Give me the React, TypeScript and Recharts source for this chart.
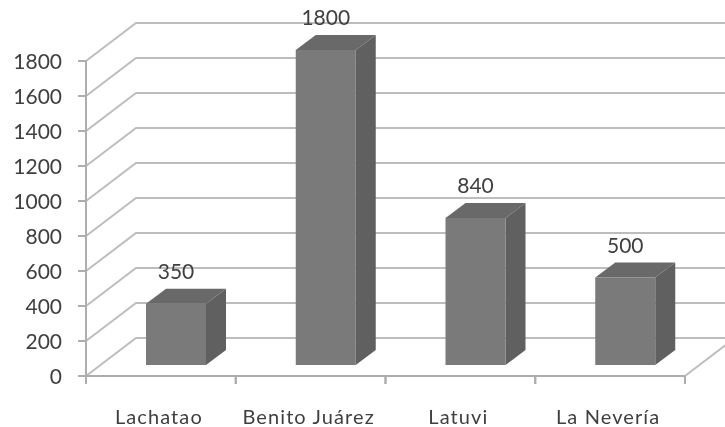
import React from "react";
import { ComposedChart, Bar, XAxis, YAxis, CartesianGrid, LabelList } from "recharts";

const categories = ["Lachatao", "Benito Juárez", "Latuvi", "La Nevería"];
const values = [350, 1800, 840, 500];
const yTicks = [0, 200, 400, 600, 800, 1000, 1200, 1400, 1600, 1800];

const data = categories.map((name, i) => ({ name, value: values[i] }));

const W = 725;
const H = 427;
const BACK_DX = 50;
const BACK_DY = -38;
const BAR_DX = 15;
const BAR_DY = -11;
const SIDE_DX = 20;
const SIDE_DY = -15;
const GRID = "#bdbdbd";
const AXIS = "#adadad";
const TEXT = "#3f3f3f";
const FONT = "Lato, Carlito, sans-serif";

const GridLine = (p: any) => {
  const { x1, y1, x2 } = p;
  const by = y1 + BACK_DY;
  return (
    <polyline
      points={`${x1},${y1} ${x1 + BACK_DX},${by} ${x2 + BACK_DX},${by}`}
      fill="none"
      stroke={GRID}
      strokeWidth={2}
    />
  );
};

const Box = (p: any) => {
  const x = p.x + BAR_DX;
  const y = p.y + BAR_DY;
  const w = p.width;
  const h = p.height;
  return (
    <g>
      <polygon
        points={`${x},${y} ${x + SIDE_DX},${y + SIDE_DY} ${x + w + SIDE_DX},${y + SIDE_DY} ${x + w},${y}`}
        fill="#696969"
      />
      <polygon
        points={`${x + w},${y} ${x + w + SIDE_DX},${y + SIDE_DY} ${x + w + SIDE_DX},${y + h + SIDE_DY} ${x + w},${y + h}`}
        fill="#606060"
      />
      <rect x={x} y={y} width={w} height={h} fill="#7a7a7a" />
    </g>
  );
};

const XTick = (p: any) => {
  const { x, y, payload, width, visibleTicksCount, index } = p;
  const half = width / visibleTicksCount / 2;
  const last = index === visibleTicksCount - 1;
  return (
    <g>
      <line x1={x - half} x2={x - half} y1={y} y2={y + 8} stroke={AXIS} strokeWidth={2} />
      <line x1={x + half} x2={x + half} y1={y} y2={y + 8} stroke={AXIS} strokeWidth={2} />
      {last ? (
        <line
          x1={x + half}
          y1={y}
          x2={x + half + BACK_DX}
          y2={y + BACK_DY}
          stroke={GRID}
          strokeWidth={2}
        />
      ) : null}
      <text
        x={x - 2}
        y={y + 48}
        textAnchor="middle"
        fontFamily={FONT}
        fontSize={20}
        letterSpacing={1.1}
        fill={TEXT}
      >
        {payload.value}
      </text>
    </g>
  );
};

const ValueLabel = (p: any) => {
  const { x, y, width, value } = p;
  return (
    <text
      x={x + width / 2 + BAR_DX}
      y={y - 36}
      textAnchor="middle"
      fontFamily={FONT}
      fontSize={21}
      fill={TEXT}
    >
      {value}
    </text>
  );
};

const YTick = (p: any) => {
  const { x, y, payload } = p;
  return (
    <text x={x} y={y + 8} textAnchor="end" fontFamily={FONT} fontSize={21} fill={TEXT}>
      {payload.value}
    </text>
  );
};

export default function App() {
  return (
    <div style={{ position: "absolute", left: 0, top: 0, width: W, height: H, filter: "blur(0.5px)" }}>
      <ComposedChart
        width={W}
        height={H}
        data={data}
        margin={{ top: 61, right: 40, bottom: 0, left: 0 }}
      >
        <CartesianGrid horizontal={GridLine as any} vertical={false} />
        <XAxis
          dataKey="name"
          height={51}
          tick={<XTick />}
          tickLine={false}
          tickSize={0}
          tickMargin={0}
          interval={0}
          axisLine={{ stroke: AXIS, strokeWidth: 2 }}
        />
        <YAxis
          width={86}
          domain={[0, 1800]}
          ticks={yTicks}
          interval={0}
          tickSize={8}
          tickMargin={16}
          tickLine={{ stroke: AXIS, strokeWidth: 2 }}
          axisLine={{ stroke: AXIS, strokeWidth: 2 }}
          tick={<YTick />}
        />
        <Bar dataKey="value" barSize={60} shape={<Box />} isAnimationActive={false}>
          <LabelList dataKey="value" content={<ValueLabel />} />
        </Bar>
      </ComposedChart>
    </div>
  );
}
